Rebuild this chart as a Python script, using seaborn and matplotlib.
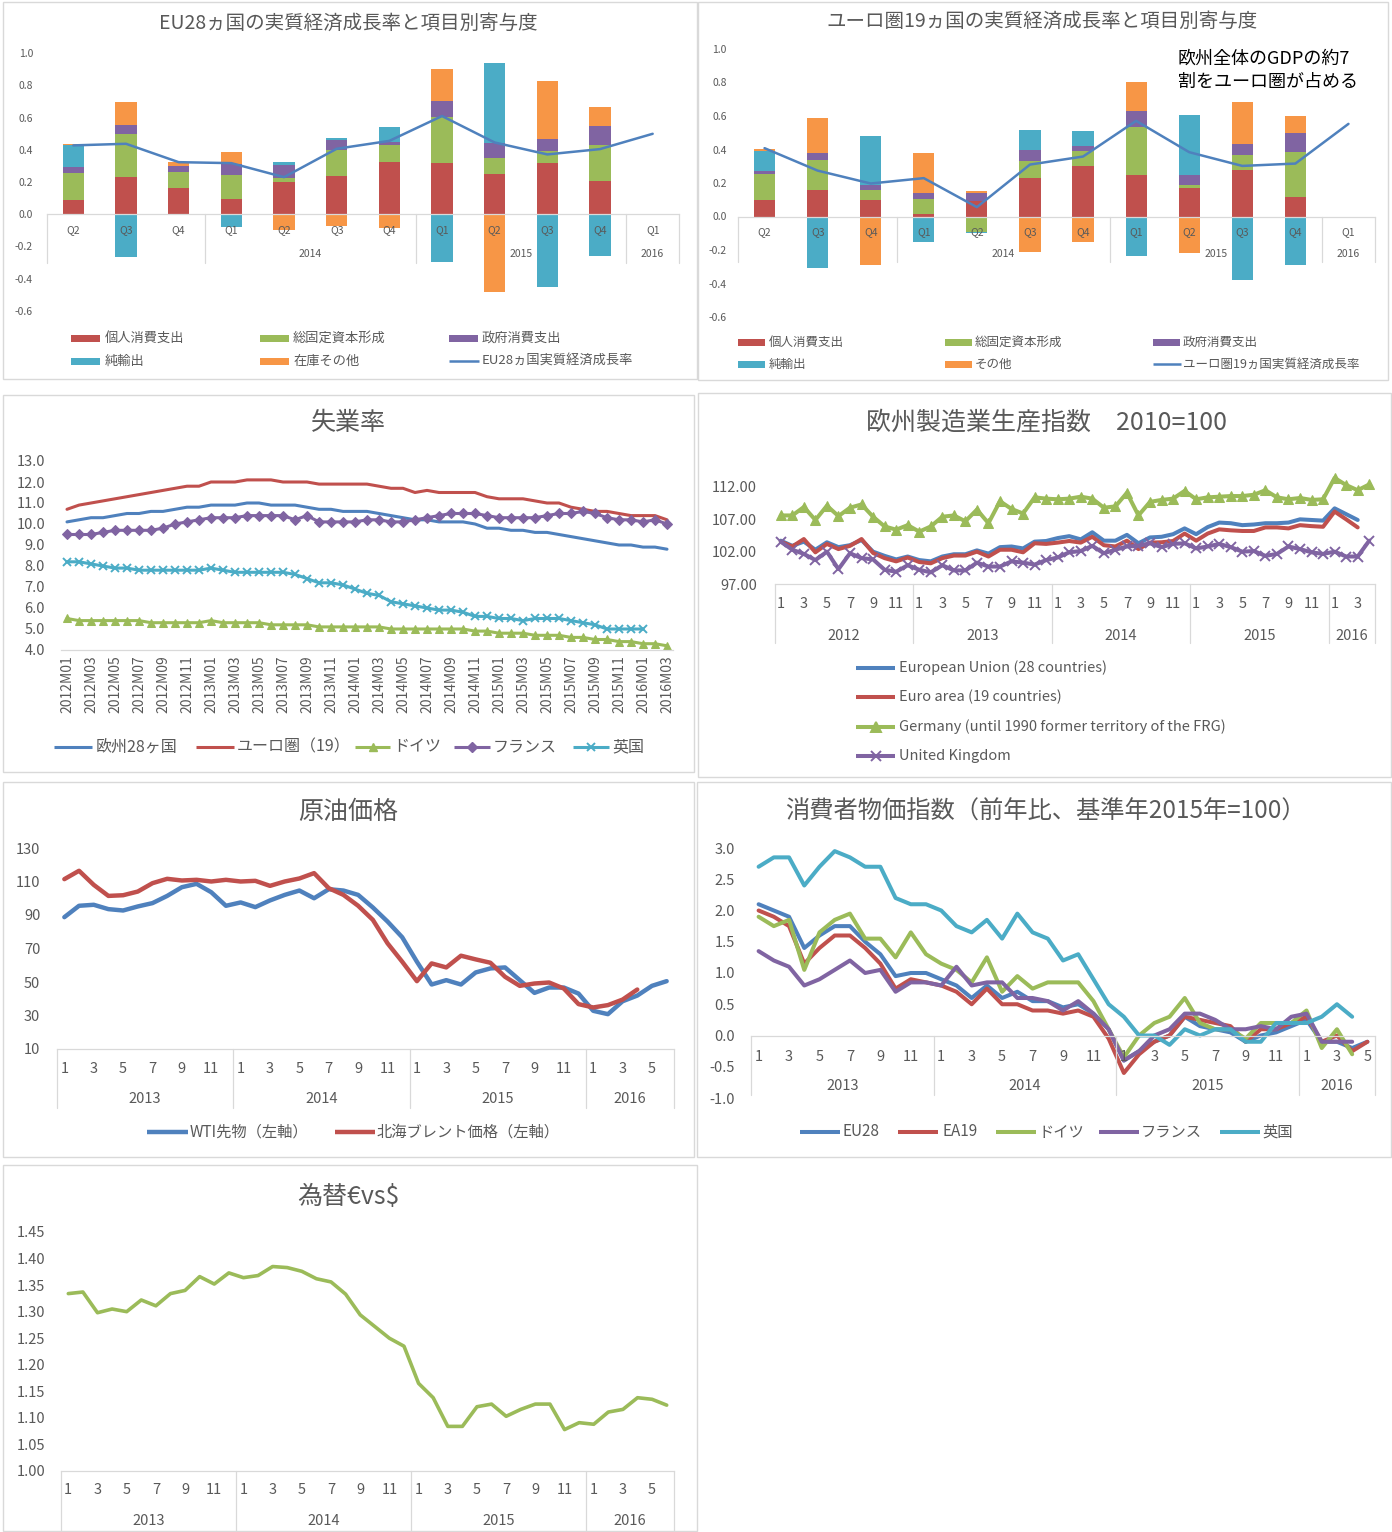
import numpy as np
import pandas as pd
import matplotlib
matplotlib.use("Agg")
import matplotlib.pyplot as plt
import seaborn as sns
from matplotlib import patches, transforms
from matplotlib.lines import Line2D

nan = np.nan

# ---------------- DATA ----------------
# GDP contribution charts (Q2 2013 ... Q1 2016)
gdp_quarters = ["Q2", "Q3", "Q4", "Q1", "Q2", "Q3", "Q4", "Q1", "Q2", "Q3", "Q4", "Q1"]
gdp_year_groups = ["", "2014", "2015", "2016"]
gdp_year_sizes = [3, 4, 4, 1]

eu_consumption = [0.087, 0.230, 0.164, 0.093, 0.197, 0.238, 0.323, 0.319, 0.250, 0.315, 0.205]
eu_investment = [0.168, 0.270, 0.095, 0.149, 0.027, 0.160, 0.104, 0.283, 0.098, 0.076, 0.226]
eu_government = [0.041, 0.055, 0.043, 0.071, 0.084, 0.060, 0.024, 0.102, 0.093, 0.077, 0.114]
eu_net_exports = [0.131, -0.263, 0.000, -0.077, 0.019, 0.014, 0.087, -0.298, 0.497, -0.453, -0.261]
eu_inventory = [0.008, 0.139, 0.021, 0.076, -0.097, -0.070, -0.083, 0.196, -0.480, 0.358, 0.120]
eu_gdp = [0.427, 0.437, 0.323, 0.317, 0.230, 0.406, 0.455, 0.609, 0.445, 0.371, 0.404, 0.499]

ea_consumption = [0.099, 0.161, 0.101, 0.016, 0.093, 0.231, 0.300, 0.249, 0.169, 0.278, 0.117]
ea_investment = [0.157, 0.179, 0.060, 0.087, -0.093, 0.099, 0.092, 0.288, 0.018, 0.088, 0.267]
ea_government = [0.016, 0.040, 0.026, 0.040, 0.046, 0.068, 0.031, 0.095, 0.062, 0.065, 0.115]
ea_net_exports = [0.120, -0.310, 0.294, -0.151, -0.006, 0.117, 0.088, -0.235, 0.355, -0.378, -0.292]
ea_other = [0.012, 0.206, -0.288, 0.235, 0.014, -0.209, -0.153, 0.171, -0.219, 0.251, 0.103]
ea_gdp = [0.408, 0.274, 0.197, 0.229, 0.056, 0.310, 0.358, 0.571, 0.384, 0.302, 0.316, 0.553]

# Unemployment (2012M01 ... 2016M03)
ue_months = [f"{y}M{m:02d}" for y in range(2012, 2017) for m in range(1, 13)][:51]
ue_eu28 = [10.1, 10.2, 10.3, 10.3, 10.4, 10.5, 10.5, 10.6, 10.6, 10.7, 10.8, 10.8,
           10.9, 10.9, 10.9, 11.0, 11.0, 10.9, 10.9, 10.9, 10.8, 10.7, 10.7, 10.6,
           10.6, 10.6, 10.5, 10.4, 10.3, 10.2, 10.2, 10.1, 10.1, 10.1, 10.0, 9.8,
           9.8, 9.7, 9.7, 9.6, 9.6, 9.5, 9.4, 9.3, 9.2, 9.1, 9.0, 9.0,
           8.9, 8.9, 8.8]
ue_ea19 = [10.7, 10.9, 11.0, 11.1, 11.2, 11.3, 11.4, 11.5, 11.6, 11.7, 11.8, 11.8,
           12.0, 12.0, 12.0, 12.1, 12.1, 12.1, 12.0, 12.0, 12.0, 11.9, 11.9, 11.9,
           11.9, 11.9, 11.8, 11.7, 11.7, 11.5, 11.6, 11.5, 11.5, 11.5, 11.5, 11.3,
           11.2, 11.2, 11.2, 11.1, 11.0, 11.0, 10.8, 10.7, 10.6, 10.6, 10.5, 10.4,
           10.4, 10.4, 10.2]
ue_de = [5.5, 5.4, 5.4, 5.4, 5.4, 5.4, 5.4, 5.3, 5.3, 5.3, 5.3, 5.3,
         5.4, 5.3, 5.3, 5.3, 5.3, 5.2, 5.2, 5.2, 5.2, 5.1, 5.1, 5.1,
         5.1, 5.1, 5.1, 5.0, 5.0, 5.0, 5.0, 5.0, 5.0, 5.0, 4.9, 4.9,
         4.8, 4.8, 4.8, 4.7, 4.7, 4.7, 4.6, 4.6, 4.5, 4.5, 4.4, 4.4,
         4.3, 4.3, 4.2]
ue_fr = [9.5, 9.5, 9.5, 9.6, 9.7, 9.7, 9.7, 9.7, 9.8, 10.0, 10.1, 10.2,
         10.3, 10.3, 10.3, 10.4, 10.4, 10.4, 10.4, 10.2, 10.4, 10.1, 10.1, 10.1,
         10.1, 10.2, 10.2, 10.1, 10.1, 10.2, 10.3, 10.4, 10.5, 10.5, 10.5, 10.4,
         10.3, 10.3, 10.3, 10.3, 10.4, 10.5, 10.5, 10.6, 10.5, 10.3, 10.2, 10.2,
         10.1, 10.2, 10.0]
ue_uk = [8.2, 8.2, 8.1, 8.0, 7.9, 7.9, 7.8, 7.8, 7.8, 7.8, 7.8, 7.8,
         7.9, 7.8, 7.7, 7.7, 7.7, 7.7, 7.7, 7.6, 7.4, 7.2, 7.2, 7.1,
         6.9, 6.7, 6.6, 6.3, 6.2, 6.1, 6.0, 5.9, 5.9, 5.8, 5.6, 5.6,
         5.5, 5.5, 5.4, 5.5, 5.5, 5.5, 5.4, 5.3, 5.2, 5.0, 5.0, 5.0,
         5.0, nan, nan]

# Manufacturing production index (2012M01 ... 2016M04)
mf_years = [2012, 2013, 2014, 2015, 2016]
mf_months_per_year = [12, 12, 12, 12, 4]
mf_eu28 = [103.7, 102.9, 103.55, 102.3, 103.45, 102.7, 103.0, 103.8, 102.0, 101.35, 100.8, 101.25,
           100.7, 100.5, 101.25, 101.6, 101.6, 102.2, 101.7, 102.7, 102.8, 102.5, 103.55, 103.65,
           104.1, 104.4, 103.9, 105.0, 103.7, 103.7, 104.6, 103.3, 104.2, 104.3, 104.7, 105.6,
           104.7, 105.8, 106.5, 106.4, 106.1, 106.2, 106.4, 106.4, 106.5, 107.0, 106.9, 106.8,
           108.7, 107.8, 106.9, nan]
mf_ea19 = [103.55, 102.8, 103.95, 101.9, 103.2, 102.4, 102.9, 103.95, 101.8, 101.0, 100.5, 101.1,
           100.4, 100.2, 101.0, 101.4, 101.4, 102.0, 101.25, 102.3, 102.3, 101.9, 103.3, 103.2,
           103.4, 103.65, 103.4, 104.3, 103.0, 102.8, 103.7, 102.4, 103.4, 103.45, 103.65, 104.8,
           103.7, 104.8, 105.45, 105.3, 105.2, 105.2, 105.75, 105.75, 105.6, 106.1, 105.95, 105.85,
           108.2, 107.0, 105.75, nan]
mf_de = [107.6, 107.6, 108.9, 106.9, 109.1, 107.5, 108.8, 109.3, 107.4, 105.9, 105.4, 106.1,
         105.1, 105.9, 107.4, 107.6, 106.7, 108.5, 106.4, 109.8, 108.6, 107.9, 110.4, 110.2,
         110.1, 110.2, 110.5, 110.2, 108.8, 109.0, 111.1, 107.6, 109.7, 110.0, 110.2, 111.4,
         110.1, 110.4, 110.5, 110.6, 110.6, 110.8, 111.5, 110.4, 110.1, 110.3, 110.0, 110.1,
         113.4, 112.3, 111.5, 112.4]
mf_uk = [103.55, 102.3, 101.65, 100.7, 102.0, 99.3, 101.75, 101.0, 100.8, 99.2, 98.9, 99.9,
         99.2, 98.8, 99.9, 99.1, 99.1, 100.3, 99.7, 99.7, 100.5, 100.3, 100.0, 100.7,
         101.1, 101.9, 102.1, 102.9, 101.75, 102.3, 102.8, 102.9, 103.3, 102.7, 103.2, 103.3,
         102.5, 102.8, 103.2, 102.7, 102.0, 102.1, 101.35, 101.65, 102.8, 102.4, 101.9, 101.65,
         102.0, 101.25, 101.25, 103.7]

# Crude oil (2013M01 ... 2016M06)
oil_years = [2013, 2014, 2015, 2016]
oil_months_per_year = [12, 12, 12, 6]
oil_wti = [88.7, 95.5, 96.1, 93.5, 92.7, 95.1, 97.1, 101.4, 106.6, 108.6, 103.6, 95.5,
           97.5, 94.7, 98.7, 102.0, 104.6, 100.0, 105.4, 104.6, 102.0, 94.5, 86.1, 76.7,
           62.1, 48.5, 51.1, 48.5, 55.7, 58.1, 58.7, 51.1, 43.5, 46.7, 46.7, 43.1,
           32.8, 30.8, 38.5, 41.9, 47.7, 50.5]
oil_brent = [111.4, 116.4, 108.0, 101.4, 101.8, 104.0, 109.0, 111.6, 110.6, 111.0, 110.0, 111.0,
             110.0, 110.4, 107.4, 110.0, 111.8, 115.0, 106.0, 102.0, 95.5, 87.1, 73.1, 62.1,
             50.5, 61.1, 58.7, 65.7, 63.5, 61.5, 53.1, 47.7, 49.1, 49.7, 46.1, 36.8,
             34.8, 36.2, 39.5, 45.5, nan, nan]

# CPI yoy (2013M01 ... 2016M05)
cpi_years = [2013, 2014, 2015, 2016]
cpi_months_per_year = [12, 12, 12, 5]
cpi_eu28 = [2.1, 2.0, 1.9, 1.4, 1.6, 1.75, 1.75, 1.5, 1.3, 0.95, 1.0, 1.0,
            0.9, 0.8, 0.6, 0.8, 0.6, 0.7, 0.55, 0.55, 0.45, 0.5, 0.35, 0.1,
            -0.4, -0.25, -0.1, 0.0, 0.3, 0.15, 0.1, 0.05, -0.1, 0.0, 0.05, 0.15,
            0.25, -0.1, -0.1, -0.2, -0.1]
cpi_ea19 = [2.0, 1.9, 1.75, 1.15, 1.4, 1.6, 1.6, 1.4, 1.15, 0.75, 0.9, 0.85,
            0.8, 0.7, 0.5, 0.75, 0.5, 0.5, 0.4, 0.4, 0.35, 0.4, 0.3, -0.05,
            -0.6, -0.3, -0.1, 0.0, 0.3, 0.25, 0.2, 0.15, -0.1, 0.1, 0.1, 0.2,
            0.3, -0.1, 0.0, -0.25, -0.1]
cpi_de = [1.9, 1.75, 1.85, 1.05, 1.65, 1.85, 1.95, 1.55, 1.55, 1.25, 1.65, 1.3,
          1.15, 1.05, 0.85, 1.25, 0.7, 0.95, 0.75, 0.85, 0.85, 0.85, 0.55, 0.1,
          -0.35, 0.0, 0.2, 0.3, 0.6, 0.2, 0.1, 0.1, -0.05, 0.2, 0.2, 0.2,
          0.4, -0.2, 0.1, -0.3, nan]
cpi_fr = [1.35, 1.2, 1.1, 0.8, 0.9, 1.05, 1.2, 1.0, 1.05, 0.7, 0.85, 0.85,
          0.8, 1.1, 0.8, 0.85, 0.85, 0.6, 0.6, 0.55, 0.4, 0.55, 0.35, 0.1,
          -0.4, -0.25, 0.0, 0.1, 0.35, 0.35, 0.25, 0.1, 0.1, 0.15, 0.1, 0.3,
          0.35, -0.1, -0.1, -0.1, nan]
cpi_uk = [2.7, 2.85, 2.85, 2.4, 2.7, 2.95, 2.85, 2.7, 2.7, 2.2, 2.1, 2.1,
          2.0, 1.75, 1.65, 1.85, 1.55, 1.95, 1.65, 1.55, 1.2, 1.3, 0.9, 0.5,
          0.3, 0.0, 0.0, -0.15, 0.1, 0.0, 0.1, 0.1, -0.1, -0.1, 0.2, 0.2,
          0.2, 0.3, 0.5, 0.3, nan]

# EUR/USD (2013M01 ... 2016M06)
fx_years = [2013, 2014, 2015, 2016]
fx_months_per_year = [12, 12, 12, 6]
fx_eurusd = [1.334, 1.337, 1.298, 1.305, 1.300, 1.322, 1.311, 1.334, 1.340, 1.366, 1.352, 1.373,
             1.364, 1.368, 1.385, 1.383, 1.376, 1.362, 1.356, 1.333, 1.294, 1.272, 1.250, 1.235,
             1.165, 1.138, 1.084, 1.084, 1.121, 1.126, 1.103, 1.116, 1.126, 1.126, 1.078, 1.091,
             1.088, 1.111, 1.116, 1.138, 1.135, 1.124]

# ---------------- STYLE ----------------
sns.set_theme(style="white")
plt.rcParams["font.family"] = ["Noto Sans CJK JP", "DejaVu Sans"]
plt.rcParams["axes.unicode_minus"] = False

BLUE, RED, GREEN = "#4F81BD", "#C0504D", "#9BBB59"
PURPLE, TEAL, ORANGE = "#8064A2", "#4BACC6", "#F79646"
TXT = "#595959"
AXC = "#D9D9D9"

W, H = 1392, 1532
fig = plt.figure(figsize=(W / 100, H / 100), dpi=100)
fig.patch.set_facecolor("white")


def fx(x):
    return x / W


def fy(y):
    return 1 - y / H


def make_axes(left, top, right, bottom):
    ax = fig.add_axes([fx(left), fy(bottom), (right - left) / W, (bottom - top) / H])
    ax.set_facecolor("none")
    for s in ax.spines.values():
        s.set_visible(False)
    ax.grid(False)
    return ax


def bt(ax):
    return transforms.blended_transform_factory(ax.transData, fig.transFigure)


def frame(x0, y0, x1, y1):
    fig.add_artist(patches.Rectangle((fx(x0), fy(y1)), (x1 - x0) / W, (y1 - y0) / H,
                                     transform=fig.transFigure, fill=False,
                                     edgecolor=AXC, linewidth=1.0))


def title(cx, cy, s, size):
    fig.text(fx(cx), fy(cy), s, ha="center", va="center", fontsize=size, color=TXT)


def leg_bar(x0, x1, y, color, h=7):
    fig.add_artist(patches.Rectangle((fx(x0), fy(y + h / 2)), (x1 - x0) / W, h / H,
                                     transform=fig.transFigure, color=color, lw=0))


def leg_line(x0, x1, y, color, lw, marker=None, ms=6, mew=1.0):
    fig.add_artist(Line2D([fx(x0), fx(x1)], [fy(y), fy(y)], transform=fig.transFigure,
                          color=color, lw=lw, solid_capstyle="butt"))
    if marker:
        fig.add_artist(Line2D([fx((x0 + x1) / 2)], [fy(y)], transform=fig.transFigure,
                              color=color, marker=marker, ms=ms, mec=color, mew=mew, ls="none"))


def leg_text(x, y, s, size):
    fig.text(fx(x), fy(y), s, ha="left", va="center", fontsize=size, color=TXT)


def style_bottom_axis(ax, at=None):
    sp = ax.spines["bottom"]
    sp.set_visible(True)
    sp.set_color(AXC)
    sp.set_linewidth(0.9)
    if at is not None:
        sp.set_position(("data", at))


def yticks(ax, ticks, fmt, size, pad):
    ax.set_yticks(ticks)
    ax.set_yticklabels([fmt.format(t) for t in ticks])
    ax.tick_params(axis="y", length=0, pad=pad, labelsize=size, labelcolor=TXT)


def month_axis(ax, years, counts, y_month, y_year, sep0, sep1, size):
    t = bt(ax)
    start = 0
    bounds = [-0.5]
    for yr, n in zip(years, counts):
        for m in range(1, n + 1, 2):
            ax.text(start + m - 1, fy(y_month), str(m), transform=t, ha="center",
                    va="center", fontsize=size, color=TXT)
        ax.text(start + (n - 1) / 2, fy(y_year), str(yr), transform=t, ha="center",
                va="center", fontsize=size, color=TXT)
        start += n
        bounds.append(start - 0.5)
    for b in bounds:
        ax.plot([b, b], [fy(sep0), fy(sep1)], transform=t, color=AXC, lw=0.9, clip_on=False)
    ax.set_xticks([])


# ---------------- GDP PANELS ----------------
def gdp_panel(box, comps, colors, gdp, q_y, yr_y, sep1, ypad):
    left, top, right, bottom = box
    ax = make_axes(left, top, right, bottom)
    x = np.arange(len(comps[0]))
    pos = np.zeros(len(x))
    neg = np.zeros(len(x))
    for vals, c in zip(comps, colors):
        v = np.asarray(vals, float)
        base = np.where(v >= 0, pos, neg)
        ax.bar(x, v, width=0.4, bottom=base, color=c, linewidth=0, zorder=2)
        pos = pos + np.where(v >= 0, v, 0)
        neg = neg + np.where(v < 0, v, 0)
    df = pd.DataFrame({"q": np.arange(len(gdp)), "g": gdp})
    sns.lineplot(data=df, x="q", y="g", ax=ax, color=BLUE, linewidth=1.8, zorder=3, legend=False)
    t = bt(ax)
    for i, q in enumerate(gdp_quarters):
        ax.text(i, fy(q_y), q, transform=t, ha="center", va="center", fontsize=7.5, color=TXT)
    start = 0
    bounds = [-0.5]
    for name, n in zip(gdp_year_groups, gdp_year_sizes):
        if name:
            ax.text(start + (n - 1) / 2, fy(yr_y), name, transform=t, ha="center",
                    va="center", fontsize=7.5, color=TXT)
        start += n
        bounds.append(start - 0.5)
    zero_px = top + (bottom - top) * (1.0 / 1.6)
    for b in bounds:
        ax.plot([b, b], [fy(zero_px), fy(sep1)], transform=t, color=AXC, lw=0.9, clip_on=False)
    style_bottom_axis(ax, at=0)
    ax.set_xticks([])
    yticks(ax, np.round(np.arange(-0.6, 1.01, 0.2), 1), "{:.1f}", 7.5, ypad)
    ax.set_xlim(-0.5, 11.5)
    ax.set_ylim(-0.6, 1.0)
    ax.set_xlabel("")
    ax.set_ylabel("")
    return ax


# Panel 1
frame(3, 2, 697, 379)
title(348, 23, "EU28ヵ国の実質経済成長率と項目別寄与度", 14)
gdp_panel((47, 53, 679, 311),
          [eu_consumption, eu_investment, eu_government, eu_net_exports, eu_inventory],
          [RED, GREEN, PURPLE, TEAL, ORANGE], eu_gdp, 230, 254, 263, 10)
for (hx, tx), items in zip([(71, 105), (260, 293), (449, 482)],
                           [[("個人消費支出", RED), ("純輸出", TEAL)],
                            [("総固定資本形成", GREEN), ("在庫その他", ORANGE)],
                            [("政府消費支出", PURPLE), ("EU28ヵ国実質経済成長率", None)]]):
    for (lab, c), yy in zip(items, [338, 361]):
        if c is None:
            leg_line(hx, hx + 30, yy, BLUE, 1.8)
        else:
            leg_bar(hx, hx + 29, yy, c)
        leg_text(tx, yy, lab, 9.5)

# Panel 2
frame(698, 2, 1388, 380)
title(1042, 21, "ユーロ圏19ヵ国の実質経済成長率と項目別寄与度", 14)
gdp_panel((738, 49, 1375, 317),
          [ea_consumption, ea_investment, ea_government, ea_net_exports, ea_other],
          [RED, GREEN, PURPLE, TEAL, ORANGE], ea_gdp, 232, 254, 262, 8)
fig.text(fx(1178), fy(59), "欧州全体のGDPの約7", ha="left", va="center", fontsize=13, color="black")
fig.text(fx(1178), fy(82), "割をユーロ圏が占める", ha="left", va="center", fontsize=13, color="black")
for (hx, tx), items in zip([(738, 769), (945, 975), (1153, 1183)],
                           [[("個人消費支出", RED), ("純輸出", TEAL)],
                            [("総固定資本形成", GREEN), ("その他", ORANGE)],
                            [("政府消費支出", PURPLE), ("ユーロ圏19ヵ国実質経済成長率", None)]]):
    for (lab, c), yy in zip(items, [342, 364]):
        if c is None:
            leg_line(hx, hx + 28, yy, BLUE, 1.8)
        else:
            leg_bar(hx, hx + 27, yy, c)
        leg_text(tx, yy, lab, 9)

# ---------------- Panel 3: unemployment ----------------
frame(3, 395, 694, 772)
title(348, 423, "失業率", 18)
ax3 = make_axes(61, 461, 673, 650)
ue = pd.DataFrame({"i": np.arange(51), "eu": ue_eu28, "ea": ue_ea19, "de": ue_de,
                   "fr": ue_fr, "uk": ue_uk})
sns.lineplot(data=ue, x="i", y="eu", ax=ax3, color=BLUE, linewidth=2.2, legend=False)
sns.lineplot(data=ue, x="i", y="ea", ax=ax3, color=RED, linewidth=2.2, legend=False)
sns.lineplot(data=ue, x="i", y="de", ax=ax3, color=GREEN, linewidth=2.2, marker="^",
             markersize=6, markeredgecolor=GREEN, legend=False)
sns.lineplot(data=ue, x="i", y="fr", ax=ax3, color=PURPLE, linewidth=2.2, marker="D",
             markersize=5, markeredgecolor=PURPLE, legend=False)
sns.lineplot(data=ue, x="i", y="uk", ax=ax3, color=TEAL, linewidth=2.2, marker="x",
             markersize=6, markeredgecolor=TEAL, markeredgewidth=1.4, legend=False)
style_bottom_axis(ax3)
yticks(ax3, np.arange(4, 13.1, 1.0), "{:.1f}", 10.5, 11.5)
ax3.set_xticks(np.arange(0, 51, 2))
ax3.set_xticklabels(ue_months[::2], rotation=90, fontsize=10, color=TXT)
ax3.tick_params(axis="x", length=0, pad=4)
ax3.set_xlim(-0.5, 50.5)
ax3.set_ylim(4, 13)
ax3.set_xlabel("")
ax3.set_ylabel("")
leg_line(54, 92, 747, BLUE, 2.2)
leg_text(96, 747, "欧州28ヶ国", 11.5)
leg_line(196, 234, 747, RED, 2.2)
leg_text(237, 747, "ユーロ圏（19）", 11.5)
leg_line(355, 390, 747, GREEN, 2.2, "^", 6)
leg_text(393, 747, "ドイツ", 11.5)
leg_line(454, 490, 747, PURPLE, 2.2, "D", 5)
leg_text(493, 747, "フランス", 11.5)
leg_line(573, 609, 747, TEAL, 2.2, "x", 6, 1.4)
leg_text(612, 747, "英国", 11.5)

# ---------------- Panel 4: manufacturing ----------------
frame(698, 393, 1391, 777)
title(1047, 423, "欧州製造業生産指数　2010=100", 18)
ax4 = make_axes(775, 467.6, 1375, 584)
mf = pd.DataFrame({"i": np.arange(52), "eu": mf_eu28, "ea": mf_ea19, "de": mf_de, "uk": mf_uk})
sns.lineplot(data=mf, x="i", y="eu", ax=ax4, color=BLUE, linewidth=2.9, legend=False)
sns.lineplot(data=mf, x="i", y="ea", ax=ax4, color=RED, linewidth=2.9, legend=False)
sns.lineplot(data=mf, x="i", y="de", ax=ax4, color=GREEN, linewidth=2.9, marker="^",
             markersize=7, markeredgecolor=GREEN, legend=False)
sns.lineplot(data=mf, x="i", y="uk", ax=ax4, color=PURPLE, linewidth=2.9, marker="x",
             markersize=7, markeredgecolor=PURPLE, markeredgewidth=1.4, legend=False)
style_bottom_axis(ax4)
yticks(ax4, [97, 102, 107, 112], "{:.2f}", 10.5, 13)
month_axis(ax4, mf_years, mf_months_per_year, 604, 636, 584, 643, 10.5)
ax4.set_xlim(-0.5, 51.5)
ax4.set_ylim(97, 115)
ax4.set_xlabel("")
ax4.set_ylabel("")
for lab, c, mk, yy in [("European Union (28 countries)", BLUE, None, 668),
                       ("Euro area (19 countries)", RED, None, 697),
                       ("Germany (until 1990 former territory of the FRG)", GREEN, "^", 727),
                       ("United Kingdom", PURPLE, "x", 756)]:
    leg_line(856, 895, yy, c, 2.9, mk, 7, 1.4)
    leg_text(899, yy, lab, 10.5)

# ---------------- Panel 5: crude oil ----------------
frame(3, 782, 694, 1157)
title(348, 812, "原油価格", 18)
ax5 = make_axes(57, 848, 674, 1049)
oil = pd.DataFrame({"i": np.arange(42), "wti": oil_wti, "brent": oil_brent})
sns.lineplot(data=oil, x="i", y="wti", ax=ax5, color=BLUE, linewidth=3.2, legend=False)
sns.lineplot(data=oil, x="i", y="brent", ax=ax5, color=RED, linewidth=3.2, legend=False)
style_bottom_axis(ax5)
yticks(ax5, np.arange(10, 131, 20), "{:d}", 10.5, 12)
month_axis(ax5, oil_years, oil_months_per_year, 1069, 1099, 1049, 1108, 10.5)
ax5.set_xlim(-0.5, 41.5)
ax5.set_ylim(10, 130)
ax5.set_xlabel("")
ax5.set_ylabel("")
leg_line(147, 188, 1132, BLUE, 3.2)
leg_text(190, 1132, "WTI先物（左軸）", 11)
leg_line(335, 375, 1132, RED, 3.2)
leg_text(377, 1132, "北海ブレント価格（左軸）", 11)

# ---------------- Panel 6: CPI ----------------
frame(697, 782, 1391, 1157)
title(1045, 812, "消費者物価指数（前年比、基準年2015年=100）", 17.5)
ax6 = make_axes(751, 848, 1375, 1098)
cpi = pd.DataFrame({"i": np.arange(41), "eu": cpi_eu28, "ea": cpi_ea19, "de": cpi_de,
                    "fr": cpi_fr, "uk": cpi_uk})
for col, c in [("eu", BLUE), ("ea", RED), ("de", GREEN), ("fr", PURPLE), ("uk", TEAL)]:
    sns.lineplot(data=cpi, x="i", y=col, ax=ax6, color=c, linewidth=2.9, legend=False)
style_bottom_axis(ax6, at=0)
yticks(ax6, np.arange(-1.0, 3.01, 0.5), "{:.1f}", 10.5, 11.5)
month_axis(ax6, cpi_years, cpi_months_per_year, 1057, 1086, 1036, 1095, 10.5)
ax6.set_xlim(-0.5, 40.5)
ax6.set_ylim(-1.0, 3.0)
ax6.set_xlabel("")
ax6.set_ylabel("")
for (hx, tx), lab, c in zip([(800, 843), (898, 942), (996, 1038), (1099, 1141), (1220, 1262)],
                            ["EU28", "EA19", "ドイツ", "フランス", "英国"],
                            [BLUE, RED, GREEN, PURPLE, TEAL]):
    leg_line(hx, hx + 40, 1132, c, 2.9)
    leg_text(tx, 1132, lab, 11)

# ---------------- Panel 7: EUR/USD ----------------
frame(3, 1165, 697, 1531)
title(348, 1197, "為替€vs$", 18)
ax7 = make_axes(61, 1232, 674, 1471)
fxd = pd.DataFrame({"i": np.arange(42), "r": fx_eurusd})
sns.lineplot(data=fxd, x="i", y="r", ax=ax7, color=GREEN, linewidth=2.6, legend=False)
style_bottom_axis(ax7)
yticks(ax7, np.arange(1.00, 1.451, 0.05), "{:.2f}", 10.5, 11.5)
month_axis(ax7, fx_years, fx_months_per_year, 1490, 1521, 1471, 1532, 10.5)
ax7.set_xlim(-0.5, 41.5)
ax7.set_ylim(1.0, 1.45)
ax7.set_xlabel("")
ax7.set_ylabel("")

fig.savefig("out.png", dpi=100, facecolor="white")
